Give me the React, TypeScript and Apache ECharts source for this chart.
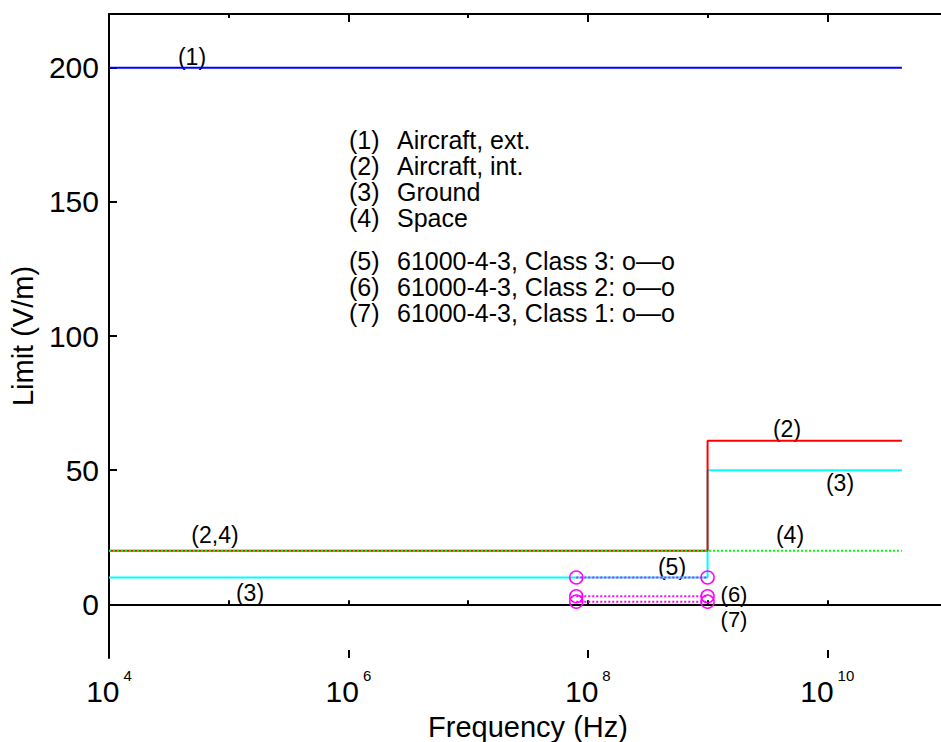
import React, { useEffect, useRef } from "react";
import * as echarts from "echarts";

// ---- data ----
const aircraftExtX = [1e4, 4.2e10];
const aircraftExtY = [200, 200];
const aircraftIntX = [1e4, 1e9, 1e9, 4.2e10];
const aircraftIntY = [20, 20, 61, 61];
const groundX = [1e4, 1e9, 1e9, 4.2e10];
const groundY = [10, 10, 50, 50];
const spaceX = [1e4, 4.2e10];
const spaceY = [20, 20];
const iecX = [8e7, 1e9];
const class3Y = [10, 10];
const class2Y = [3, 3];
const class1Y = [1, 1];
const yTickValues = [0, 50, 100, 150, 200];

const legendNums = ["(1)", "(2)", "(3)", "(4)", "(5)", "(6)", "(7)"];
const legendTexts = [
  "Aircraft, ext.",
  "Aircraft, int.",
  "Ground",
  "Space",
  "61000-4-3, Class 3: o\u2014o",
  "61000-4-3, Class 2: o\u2014o",
  "61000-4-3, Class 1: o\u2014o",
];
const legendYs = [140, 166, 192, 218, 261, 287, 313];

const annotations: [string, number, number, number][] = [
  ["(1)", 192, 57, 23],
  ["(2,4)", 215, 535, 23],
  ["(3)", 250, 593, 23],
  ["(2)", 787, 429, 23],
  ["(3)", 840, 483, 23],
  ["(4)", 790, 535, 23],
  ["(5)", 672, 567, 23],
  ["(6)", 734, 594, 22],
  ["(7)", 734, 619, 22],
];

const FONT = "'Liberation Sans', Arial, Helvetica, sans-serif";
const zip = (xs: number[], ys: number[]) => xs.map((x, i) => [x, ys[i]]);

export default function App() {
  const ref = useRef<HTMLDivElement>(null);
  useEffect(() => {
    document.body.style.margin = "0";
    const chart = echarts.init(ref.current!, undefined, { renderer: "svg" });
    const X_MIN = 1e4;
    const X_MAX = 1e11;
    const minorAxis = (position: "top" | "bottom") => ({
      type: "log",
      logBase: 10,
      min: X_MIN,
      max: X_MAX,
      position,
      axisLine: { show: true, lineStyle: { color: "#000", width: 2 } },
      axisTick: { show: true, inside: true, length: 4, lineStyle: { color: "#000", width: 2 } },
      axisLabel: { show: false },
      splitLine: { show: false },
      minorTick: { show: false },
    });
    const majorAxis = (position: "top" | "bottom", labels: boolean) => ({
      type: "log",
      logBase: 100,
      min: X_MIN,
      max: X_MAX,
      position,
      axisLine: { show: false },
      axisTick: { show: true, inside: true, length: 8, lineStyle: { color: "#000", width: 2 } },
      splitLine: { show: false },
      axisLabel: labels
        ? {
            show: true,
            margin: 10,
            formatter: (v: number) => {
              const e = Math.round(Math.log10(v));
              if (e % 2 !== 0) return "";
              return "{b|10}{s|" + e + "}";
            },
            rich: {
              b: { fontSize: 30, fontFamily: FONT, color: "#000", lineHeight: 38, verticalAlign: "bottom" },
              s: {
                fontSize: 15,
                fontFamily: FONT,
                color: "#000",
                lineHeight: 15,
                verticalAlign: "top",
                padding: [0, 0, 0, 4],
              },
            },
          }
        : { show: false },
      ...(labels
        ? {
            name: "Frequency (Hz)",
            nameLocation: "middle",
            nameGap: 54,
            nameTextStyle: { fontSize: 29, fontFamily: FONT, color: "#000" },
          }
        : {}),
    });

    const lineSeries = (data: number[][], color: string, type: any, z: number) => ({
      type: "line",
      xAxisIndex: 0,
      yAxisIndex: 0,
      data,
      showSymbol: false,
      symbol: "none",
      lineStyle: { color, width: 2, type },
      itemStyle: { color },
      z,
      silent: true,
    });
    const iecSeries = (ys: number[], z: number) => ({
      type: "line",
      xAxisIndex: 0,
      yAxisIndex: 0,
      data: zip(iecX, ys),
      symbol: "circle",
      symbolSize: 13,
      showSymbol: true,
      lineStyle: { color: "#ff00ff", width: 2, type: [2, 2] },
      itemStyle: { color: "rgba(0,0,0,0)", borderColor: "#ff00ff", borderWidth: 1.5 },
      z,
      silent: true,
    });

    const graphics: any[] = [];
    annotations.forEach(([t, x, y, fs]) => {
      graphics.push({
        type: "text",
        x,
        y,
        silent: true,
        style: {
          text: t,
          fontSize: fs,
          lineHeight: fs - 2,
          fontFamily: FONT,
          fill: "#000",
          textAlign: "center",
          textVerticalAlign: "middle",
          align: "center",
          verticalAlign: "middle",
        },
      });
    });
    legendNums.forEach((n, i) => {
      graphics.push({
        type: "text",
        x: 349,
        y: legendYs[i],
        silent: true,
        style: {
          text: n,
          fontSize: 25,
          fontFamily: FONT,
          fill: "#000",
          textAlign: "left",
          textVerticalAlign: "middle",
          align: "left",
          verticalAlign: "middle",
        },
      });
      graphics.push({
        type: "text",
        x: 397,
        y: legendYs[i],
        silent: true,
        style: {
          text: legendTexts[i],
          fontSize: 25,
          fontFamily: FONT,
          fill: "#000",
          textAlign: "left",
          textVerticalAlign: "middle",
          align: "left",
          verticalAlign: "middle",
        },
      });
    });

    chart.setOption({
      animation: false,
      backgroundColor: "#fff",
      grid: {
        left: 109,
        top: 14,
        width: 838,
        height: 644,
        containLabel: false,
        outerBoundsMode: "none",
      },
      xAxis: [minorAxis("bottom"), majorAxis("bottom", true), minorAxis("top"), majorAxis("top", false)],
      yAxis: [
        {
          type: "value",
          min: -20,
          max: 220,
          position: "left",
          axisLine: { show: true, lineStyle: { color: "#000", width: 2 } },
          axisTick: {
            show: true,
            inside: true,
            length: 8,
            customValues: yTickValues,
            lineStyle: { color: "#000", width: 2 },
          },
          axisLabel: {
            show: true,
            margin: 10,
            customValues: yTickValues,
            fontSize: 30,
            fontFamily: FONT,
            color: "#000",
          },
          splitLine: { show: false },
          name: "Limit (V/m)",
          nameLocation: "middle",
          nameGap: 72,
          nameTextStyle: { fontSize: 29, fontFamily: FONT, color: "#000" },
        },
      ],
      series: [
        lineSeries(zip(groundX, groundY), "#00ffff", "solid", 2),
        lineSeries(zip(aircraftIntX, aircraftIntY), "#ff0000", "solid", 3),
        lineSeries(zip(aircraftExtX, aircraftExtY), "#0000ff", "solid", 3),
        lineSeries(zip(spaceX, spaceY), "#00ff00", [2, 2], 4),
        iecSeries(class3Y, 5),
        iecSeries(class2Y, 5),
        iecSeries(class1Y, 5),
      ],
      graphic: graphics,
    });
    return () => chart.dispose();
  }, []);
  return <div ref={ref} style={{ width: 941, height: 742 }} />;
}
